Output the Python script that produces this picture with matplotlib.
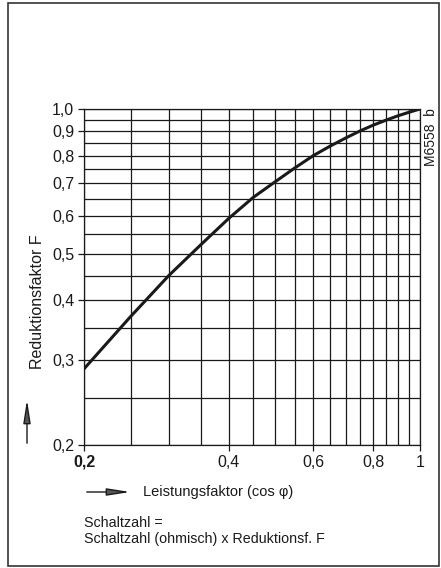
import numpy as np
import matplotlib as mpl
import matplotlib.pyplot as plt
from matplotlib.patches import FancyArrowPatch, Rectangle
from matplotlib.ticker import NullFormatter

# reduction factor F versus power factor (cos phi)
POWER_FACTOR = [0.20, 0.25, 0.30, 0.35, 0.40, 0.45, 0.50, 0.55, 0.60,
                0.65, 0.70, 0.75, 0.80, 0.85, 0.90, 0.95, 1.00]
REDUCTION = [0.288, 0.370, 0.450, 0.522, 0.592, 0.655, 0.706, 0.755, 0.800,
             0.837, 0.870, 0.900, 0.926, 0.948, 0.968, 0.985, 1.000]

X_TICKS = [0.2, 0.4, 0.6, 0.8, 1.0]
X_TICK_LABELS = ["0,2", "0,4", "0,6", "0,8", "1"]
Y_TICKS = [0.2, 0.3, 0.4, 0.5, 0.6, 0.7, 0.8, 0.9, 1.0]
Y_TICK_LABELS = ["0,2", "0,3", "0,4", "0,5", "0,6", "0,7", "0,8", "0,9", "1,0"]
GRID = [0.20, 0.25, 0.30, 0.35, 0.40, 0.45, 0.50, 0.55, 0.60,
        0.65, 0.70, 0.75, 0.80, 0.85, 0.90, 0.95, 1.00]

INK = "#1a1a1a"
W, H = 441, 568
ARROW = "-|>,head_length=0.7,head_width=0.11"


def fx(px):
    return px / W


def fy(py):
    return 1 - py / H


def main():
    mpl.rcParams.update({
        "font.family": ["Liberation Sans Narrow", "Liberation Sans", "DejaVu Sans"],
        "text.color": INK,
        "xtick.color": INK,
        "ytick.color": INK,
    })

    fig = plt.figure(figsize=(W / 100, H / 100), dpi=100)
    ax = fig.add_axes([fx(84), fy(445), 336 / W, 336 / H])

    ax.set_xscale("log")
    ax.set_yscale("log")
    ax.set_xlim(0.2, 1.0)
    ax.set_ylim(0.2, 1.0)

    ax.set_xticks(X_TICKS, X_TICK_LABELS)
    ax.set_yticks(Y_TICKS, Y_TICK_LABELS)
    ax.set_xticks(GRID, minor=True)
    ax.set_yticks(GRID, minor=True)
    ax.xaxis.set_minor_formatter(NullFormatter())
    ax.yaxis.set_minor_formatter(NullFormatter())
    ax.tick_params(which="major", length=4, width=0.9, labelsize=11.5, pad=3)
    ax.tick_params(which="minor", length=0)
    ax.get_xticklabels()[0].set_fontweight("bold")

    ax.grid(which="both", color=INK, linewidth=0.9)
    for sp in ax.spines.values():
        sp.set_color(INK)
        sp.set_linewidth(0.9)

    ax.plot(POWER_FACTOR, REDUCTION, color=INK, linewidth=2.2,
            solid_capstyle="butt", solid_joinstyle="round")

    # y axis label with arrow
    fig.text(fx(38), fy(302), "Reduktionsfaktor F", rotation=90,
             ha="center", va="center", fontsize=11.5)
    fig.add_artist(FancyArrowPatch((fx(27), fy(446)), (fx(27), fy(397)),
                                   transform=fig.transFigure, arrowstyle=ARROW,
                                   facecolor="#555555", edgecolor=INK,
                                   linewidth=1.0, mutation_scale=20))

    # x axis label with arrow
    fig.add_artist(FancyArrowPatch((fx(84), fy(492)), (fx(133), fy(492)),
                                   transform=fig.transFigure, arrowstyle=ARROW,
                                   facecolor="#555555", edgecolor=INK,
                                   linewidth=1.0, mutation_scale=20))
    fig.text(fx(143), fy(492), "Leistungsfaktor (cos φ)", ha="left", va="center",
             fontsize=10.5)

    fig.text(fx(84), fy(523), "Schaltzahl =", ha="left", va="center", fontsize=10.3)
    fig.text(fx(84), fy(539), "Schaltzahl (ohmisch) x Reduktionsf. F",
             ha="left", va="center", fontsize=10.3)

    fig.text(fx(431), fy(137), "M6558  b", rotation=90, ha="center", va="center",
             fontsize=10)

    fig.add_artist(Rectangle((fx(8), fy(566)), fx(431), 563 / H,
                             transform=fig.transFigure, fill=False,
                             edgecolor="#333333", linewidth=1.2))

    fig.savefig("out.png", dpi=100)
    plt.close(fig)


if __name__ == "__main__":
    main()
